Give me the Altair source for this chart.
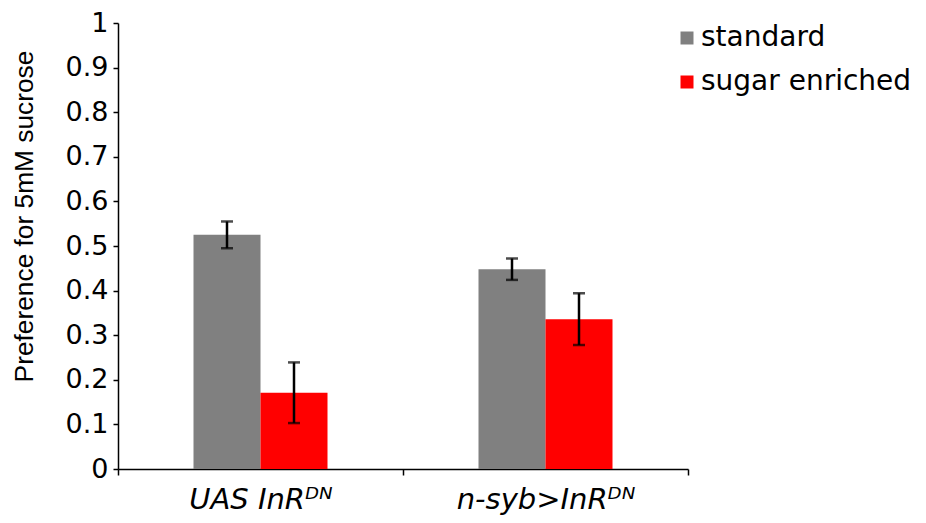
import altair as alt
import pandas as pd

groups = ["UAS InRᴰᴺ", "n-syb>InRᴰᴺ"]
diets = ["standard", "sugar enriched"]
standard_mean = [0.525, 0.448]
standard_sem = [0.030, 0.024]
sugar_mean = [0.171, 0.336]
sugar_sem = [0.068, 0.058]
y_ticks = [0, 0.1, 0.2, 0.3, 0.4, 0.5, 0.6, 0.7, 0.8, 0.9, 1]
colors = ["#808080", "#FF0000"]

rows = []
for i, g in enumerate(groups):
    for d, m, s in ((diets[0], standard_mean[i], standard_sem[i]),
                    (diets[1], sugar_mean[i], sugar_sem[i])):
        rows.append({"group": g, "diet": d, "mean": m, "lo": m - s, "hi": m + s})
df = pd.DataFrame(rows)

base = alt.Chart(df)

x_enc = alt.X(
    "group:N", sort=groups,
    scale=alt.Scale(paddingInner=0, paddingOuter=0),
    axis=alt.Axis(title=None, labelAngle=0, labelFont="DejaVu Sans",
                  labelFontStyle="italic", labelFontSize=29, labelColor="black",
                  ticks=True, tickBand="extent", tickSize=6, tickColor="black",
                  tickWidth=1.5, domainColor="black", domainWidth=1.5,
                  labelPadding=10),
)
xo_enc = alt.XOffset("diet:N", sort=diets,
                     scale=alt.Scale(paddingInner=0, paddingOuter=0,
                                     range=[75.5, 209.5]))

y_axis = alt.Axis(values=y_ticks, format="~g", grid=False,
                  title="Preference for 5mM sucrose", titleFont="Liberation Sans",
                  titleFontSize=26.3, titleFontWeight="normal", titleColor="black",
                  titleX=-86, titleY=193, titleAngle=270, titleAlign="center",
                  titleBaseline="alphabetic",
                  labelFont="DejaVu Sans", labelFontSize=27, labelColor="black",
                  tickSize=5, tickColor="black", tickWidth=1.5,
                  domainColor="black", domainWidth=1.5, labelPadding=5)

bars = base.mark_bar().encode(
    x=x_enc,
    xOffset=xo_enc,
    y=alt.Y("mean:Q", scale=alt.Scale(domain=[0, 1], nice=False), axis=y_axis),
    color=alt.Color("diet:N", sort=diets,
                    scale=alt.Scale(domain=diets, range=colors),
                    legend=alt.Legend(title=None, orient="none", legendX=555, legendY=1,
                                      symbolType="square", symbolSize=169,
                                      symbolStrokeWidth=0, labelFont="DejaVu Sans",
                                      labelFontSize=28, labelColor="black",
                                      labelOffset=0, labelLimit=0,
                                      rowPadding=16, padding=0)),
)

rules = base.mark_rule(color="black", strokeWidth=2.5).encode(
    x=alt.X("group:N", sort=groups), xOffset=xo_enc,
    y=alt.Y("lo:Q"), y2="hi:Q",
)
caps_lo = base.mark_tick(color="black", size=12, thickness=2.5).encode(
    x=alt.X("group:N", sort=groups), xOffset=xo_enc, y=alt.Y("lo:Q"),
)
caps_hi = base.mark_tick(color="black", size=12, thickness=2.5).encode(
    x=alt.X("group:N", sort=groups), xOffset=xo_enc, y=alt.Y("hi:Q"),
)

chart = alt.layer(bars, rules, caps_lo, caps_hi).properties(
    width=570, height=446,
    padding={"left": 110, "top": 15, "right": 230, "bottom": 46},
    autosize=alt.AutoSizeParams(type="none"),
).configure_view(stroke=None)

chart.save("out.html", embed_options={"renderer": "svg", "actions": False})
